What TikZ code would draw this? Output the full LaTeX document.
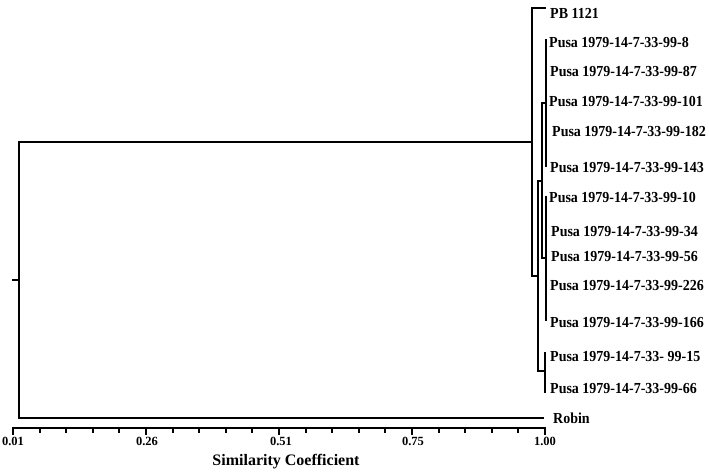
\documentclass[tikz,border=0pt]{standalone}
\usepackage{fontspec}
\setmainfont{Liberation Serif}
\newfontfamily\leaffont[FakeStretch=0.915]{Liberation Serif}
\begin{document}
\begin{tikzpicture}[x=1pt,y=-1pt,
  tree/.style={line width=2pt,line cap=rect,line join=miter},
  axisline/.style={line width=2pt},
  leaflab/.style={anchor=west,inner sep=0pt,font=\leaffont\fontsize{15.3}{17}\selectfont\bfseries},
  ticklab/.style={inner sep=0pt,font=\fontsize{12.5}{14}\selectfont\bfseries},
  axistitle/.style={inner sep=0pt,font=\fontsize{16}{18}\selectfont\bfseries}]
\useasboundingbox (0,0) rectangle (709,471);

% leaf labels
\node[leaflab] (pb)   at (550,13)  {PB 1121};
\node[leaflab] (l8)   at (549,43)  {Pusa 1979-14-7-33-99-8};
\node[leaflab] (l87)  at (550,72)  {Pusa 1979-14-7-33-99-87};
\node[leaflab] (l101) at (549,102) {Pusa 1979-14-7-33-99-101};
\node[leaflab] (l182) at (552,132) {Pusa 1979-14-7-33-99-182};
\node[leaflab] (l143) at (550,168) {Pusa 1979-14-7-33-99-143};
\node[leaflab] (l10)  at (549,198) {Pusa 1979-14-7-33-99-10};
\node[leaflab] (l34)  at (551,232) {Pusa 1979-14-7-33-99-34};
\node[leaflab] (l56)  at (551,257) {Pusa 1979-14-7-33-99-56};
\node[leaflab] (l226) at (550,286) {Pusa 1979-14-7-33-99-226};
\node[leaflab] (l166) at (550,323) {Pusa 1979-14-7-33-99-166};
\node[leaflab] (l15)  at (550,357) {Pusa 1979-14-7-33- 99-15};
\node[leaflab] (l66)  at (550,389) {Pusa 1979-14-7-33-99-66};
\node[leaflab] (rob)  at (553,418) {Robin};

% tree junctions
\coordinate (r0) at (13,280);
\coordinate (rt) at (19,142);
\coordinate (rb) at (19,418);
\coordinate (rm) at (19,280);
\coordinate (at) at (532,8);
\coordinate (ab) at (532,276);
\coordinate (am) at (532,142);
\coordinate (bt) at (538,181);
\coordinate (bb) at (538,371);
\coordinate (bm) at (538,276);
\coordinate (ct) at (545,353);
\coordinate (cb) at (545,392);
\coordinate (cm) at (545,371);
\coordinate (gt) at (542,103);
\coordinate (gb) at (542,258);
\coordinate (gm) at (542,181);
\coordinate (ft) at (546,40);
\coordinate (fb) at (546,166);
\coordinate (fm) at (546,103);
\coordinate (ht) at (546,197);
\coordinate (hb) at (546,320);
\coordinate (hm) at (546,258);
\coordinate (pbe) at (545,8);
\coordinate (robe) at (543,418);

\draw[tree] (r0) -- (rm);
\draw[tree] (robe) -- (rb) -- (rt) -- (am);
\draw[tree] (pbe) -- (at) -- (ab) -- (bm);
\draw[tree] (bt) -- (bb) -- (cm);
\draw[tree] (ct) -- (cb);
\draw[tree] (bt) -- (gm);
\draw[tree] (fm) -- (gt) -- (gb) -- (hm);
\draw[tree] (ft) -- (fb);
\draw[tree] (ht) -- (hb);

% axis
\coordinate (ax0) at (13,428);
\coordinate (ax1) at (545,428);
\draw[axisline] (ax0) -- (ax1);
\foreach \i in {0,...,20}{
  \pgfmathsetmacro{\xx}{13+\i*26.6}
  \pgfmathtruncatemacro{\mj}{mod(\i,5)==0 ? 1 : 0}
  \ifnum\mj=1
    \draw[axisline] (\xx,427) -- (\xx,435);
  \else
    \draw[axisline] (\xx,427) -- (\xx,433);
  \fi
}
\node[ticklab] (t1) at (13,441)  {0.01};
\node[ticklab] (t2) at (147,441) {0.26};
\node[ticklab] (t3) at (281,441) {0.51};
\node[ticklab] (t4) at (413,441) {0.75};
\node[ticklab] (t5) at (545,441) {1.00};
\node[axistitle] (xt) at (286,462) {Similarity Coefficient};
\end{tikzpicture}
\end{document}
